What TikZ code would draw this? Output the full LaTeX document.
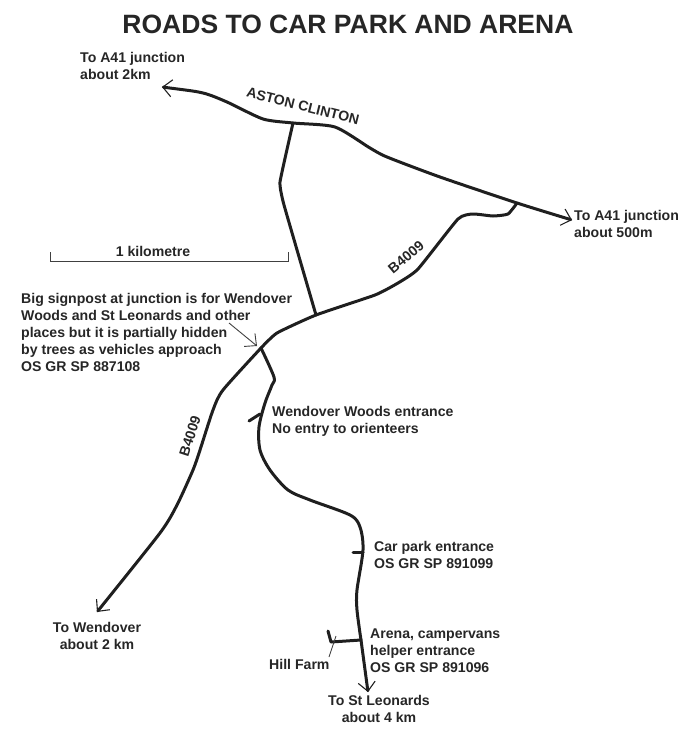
\documentclass[tikz,border=0pt]{standalone}
\usepackage{fontspec}
\setmainfont{Liberation Sans}
\usetikzlibrary{arrows.meta}
\definecolor{inkgrey}{HTML}{262626}

\begin{document}
\begin{tikzpicture}[x=1pt,y=-1pt]
	\tikzstyle{road}=[line width=3pt,color=black!88,line join=round,line cap=round]
	\tikzstyle{roadend}=[road,{Straight Barb[length=9pt,width=17pt,line width=1.1pt]}-{Straight Barb[length=9pt,width=17pt,line width=1.1pt]}]
	\tikzstyle{roadout}=[road,-{Straight Barb[length=9pt,width=17pt,line width=1.1pt]}]
	\tikzstyle{thin}=[line width=0.9pt,color=black!75]
	\tikzstyle{label}=[font=\fontsize{14.1}{17}\bfseries\selectfont,text=inkgrey,align=left,inner sep=0pt]
	\useasboundingbox (0,0) rectangle (694,734);
	\node (title) [font=\fontsize{26.5}{30}\bfseries\selectfont,text=inkgrey,inner sep=0pt] at (348,24) {ROADS TO CAR PARK AND ARENA};
	% junctions
	\coordinate (astonjn) at (293,123);
	\coordinate (bjn) at (316,315);
	\coordinate (signjn) at (261,348);
	\coordinate (topjn) at (517,203);
	\coordinate (woodsjn) at (260,414);
	\coordinate (carjn) at (363,552);
	\coordinate (arenajn) at (361,640);
	% roads
	\draw[roadend] plot[smooth,tension=0.4] coordinates {(162,87) (203,93) (227,102) (263,119) (astonjn) (335,127) (370,148) (387,157) (440,177) (topjn) (572,220)};
	\draw[road] plot[smooth,tension=0.2] coordinates {(astonjn) (280,182) (284,205) (bjn)};
	\draw[road] plot[smooth,tension=0.3] coordinates {(topjn) (508,214) (493,216) (473,214) (458,219) (418,269) (398,283) (375,295) (bjn) (277,333) (signjn)};
	\draw[roadout] plot[smooth,tension=0.4] coordinates {(signjn) (223,390) (213,410) (200,450) (193,470) (177,505) (160,533) (97,612)};
	\draw[road] plot[smooth,tension=0.5] coordinates {(signjn) (274,377) (272,385) (265,403) (259,427) (260,450) (270,470) (288,490) (310,500) (350,515) (360,527) (363,550) (357,590) (357,610) (arenajn)};
	\draw[roadout] (arenajn) -- (368,692);
	% stubs
	\coordinate (woodsend) at (249,421);
	\coordinate (carend) at (353,552);
	\coordinate (farmbend) at (331,642);
	\coordinate (farmend) at (328,631);
	\draw[road] (woodsjn) -- (woodsend);
	\draw[road] (carjn) -- (carend);
	\draw[road] (arenajn) -- (farmbend) -- (farmend);
	% scale
	\node (scale) [label] at (153,251) {1 kilometre};
	\coordinate (scaleL) at (50,261);
	\coordinate (scaleR) at (288,261);
	\draw[thin] (50,252) -- (scaleL) -- (scaleR) -- (288,252);
	% labels
	\node (nwend) [label,anchor=north west] at (80,52) {To A41 junction\\about 2km};
	\node (seend) [label,anchor=north west] at (574,210) {To A41 junction\\about 500m};
	\node (aston) [label,rotate=-14] at (303,106) {ASTON CLINTON};
	\node (bnorth) [label,rotate=40] at (406,257) {B4009};
	\node (bsouth) [label,rotate=72] at (190,436) {B4009};
	\node (sign) [label,anchor=north west] at (21,293) {Big signpost at junction is for Wendover\\Woods and St Leonards and other\\places but it is partially hidden\\by trees as vehicles approach\\OS GR SP 887108};
	\node (woods) [label,anchor=north west] at (272,406) {Wendover Woods entrance\\No entry to orienteers};
	\node (car) [label,anchor=north west] at (374,541) {Car park entrance\\OS GR SP 891099};
	\node (arena) [label,anchor=north west] at (370,629) {Arena, campervans\\helper entrance\\OS GR SP 891096};
	\node (farm) [label,anchor=north west] at (269,659) {Hill Farm};
	\node (wendover) [label,align=center,anchor=north] at (97,622) {To Wendover\\about 2 km};
	\node (leonards) [label,align=center,anchor=north] at (379,695) {To St Leonards\\about 4 km};
	% leaders
	\coordinate (signtail) at (229,323);
	\draw[thin,-{Straight Barb[length=9pt,width=17pt,line width=0.9pt]}] (signtail) -- (257,346);
	\draw[thin] (336,636) -- (329,657);
\end{tikzpicture}
\end{document}
